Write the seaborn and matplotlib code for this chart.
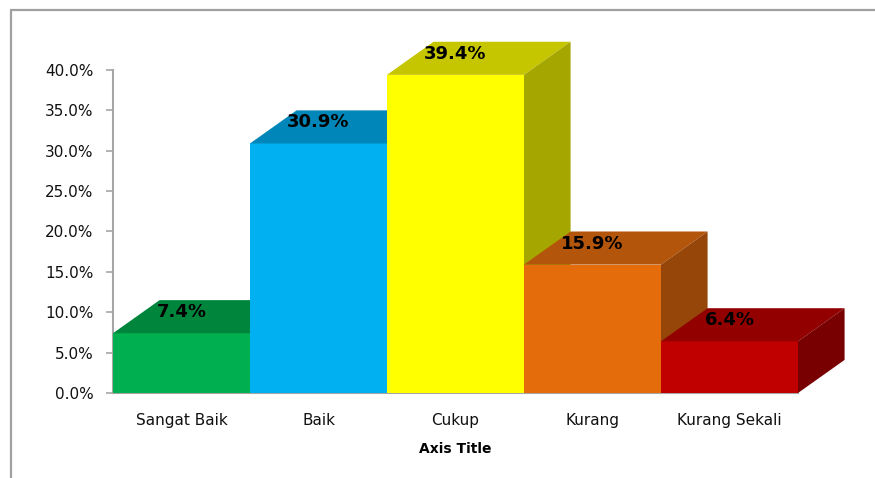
import numpy as np
import pandas as pd
import matplotlib
matplotlib.use("Agg")
import matplotlib.pyplot as plt
import seaborn as sns
from matplotlib.patches import Polygon
from matplotlib.lines import Line2D
from matplotlib.ticker import PercentFormatter

# ---- data ----
kategori = ["Sangat Baik", "Baik", "Cukup", "Kurang", "Kurang Sekali"]
persen = [7.4, 30.9, 39.4, 15.9, 6.4]
label_teks = ["7.4%", "30.9%", "39.4%", "15.9%", "6.4%"]
y_ticks = [0, 5, 10, 15, 20, 25, 30, 35, 40]

# ---- colours (front / top / side) ----
warna_depan = ["#00B050", "#00B0F0", "#FFFF00", "#E46C0A", "#C00000"]
warna_atas = ["#00853D", "#0086B8", "#C6C600", "#B3550A", "#920000"]
warna_samping = ["#006B31", "#006C94", "#A6A600", "#964608", "#780000"]

# depth of the fake 3d (in data units)
DX = 0.34
DY = 4.1

sns.set_theme(style="white")
plt.rcParams["font.family"] = ["DejaVu Sans"]

df = pd.DataFrame({"kategori": kategori, "persen": persen})

fig = plt.figure(figsize=(8.75, 4.78), dpi=100)
ax = fig.add_axes([113 / 875, 1 - 393 / 478, 685 / 875, 323 / 478])

sns.barplot(data=df, x="kategori", y="persen", hue="kategori",
            palette=warna_depan, saturation=1, width=1.0, legend=False,
            edgecolor="none", ax=ax)

# add top + side faces to every bar, right bars drawn over left ones
for i, bar in enumerate(ax.patches):
    x0 = bar.get_x()
    w = bar.get_width()
    h = bar.get_height()
    z = 2 + i
    bar.set_zorder(z)
    atas = Polygon([(x0, h), (x0 + DX, h + DY), (x0 + w + DX, h + DY), (x0 + w, h)],
                   closed=True, facecolor=warna_atas[i], edgecolor="none",
                   zorder=z, clip_on=False)
    samping = Polygon([(x0 + w, 0), (x0 + w + DX, DY), (x0 + w + DX, h + DY), (x0 + w, h)],
                      closed=True, facecolor=warna_samping[i], edgecolor="none",
                      zorder=z, clip_on=False)
    ax.add_patch(atas)
    ax.add_patch(samping)
    ax.text(x0 + w / 2, h + 2.6, label_teks[i], ha="center", va="center",
            fontsize=13, fontweight="bold", color="black", zorder=20, clip_on=False)

ax.set_xlim(-0.5, len(kategori) - 0.5)
ax.set_ylim(0, 40)
ax.set_yticks(y_ticks)
ax.yaxis.set_major_formatter(PercentFormatter(decimals=1))
ax.tick_params(axis="y", left=True, length=5, width=1.2, color="#A6A6A6",
               pad=9, labelsize=11, labelcolor="#111111")
ax.tick_params(axis="x", bottom=False, pad=8.5, labelsize=11, labelcolor="#111111")
ax.set_xlabel("Axis Title", fontsize=10, fontweight="bold", labelpad=10, color="black")
ax.set_ylabel("")

for s in ["top", "right"]:
    ax.spines[s].set_visible(False)
for s in ["left", "bottom"]:
    ax.spines[s].set_color("#A6A6A6")
    ax.spines[s].set_linewidth(1.5)
    ax.spines[s].set_zorder(1)

# chart area border (only top and left are inside the picture)
fig.add_artist(Line2D([11 / 875, 1.0], [1 - 10 / 478, 1 - 10 / 478],
                      transform=fig.transFigure, color="#A0A0A0", lw=1.6))
fig.add_artist(Line2D([11 / 875, 11 / 875], [0.0, 1 - 10 / 478],
                      transform=fig.transFigure, color="#A0A0A0", lw=1.6))

fig.savefig("out.png", dpi=100, facecolor="white")
